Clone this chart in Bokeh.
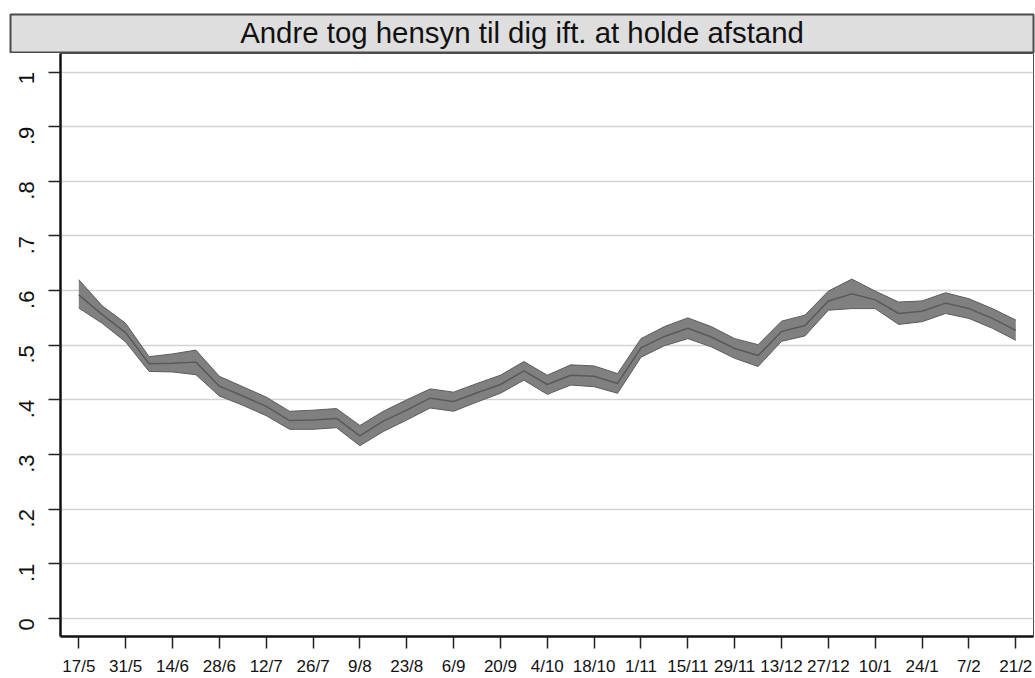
from bokeh.plotting import figure
from bokeh.models import Range1d, FixedTicker, Label, ColumnDataSource
from bokeh.embed import file_html
from bokeh.resources import INLINE
import math

title_text = "Andre tog hensyn til dig ift. at holde afstand"

# weekly observations, week 0 = 17/5
weeks = list(range(41))
mean = [0.592, 0.556, 0.523, 0.466, 0.467, 0.469, 0.425, 0.407, 0.388, 0.362,
        0.363, 0.366, 0.334, 0.361, 0.381, 0.403, 0.397, 0.413, 0.428, 0.453,
        0.428, 0.445, 0.443, 0.430, 0.495, 0.516, 0.531, 0.515, 0.494, 0.481,
        0.525, 0.536, 0.581, 0.594, 0.583, 0.558, 0.562, 0.577, 0.567, 0.549, 0.527]
upper = [0.620, 0.572, 0.540, 0.479, 0.484, 0.491, 0.443, 0.424, 0.405, 0.379,
         0.381, 0.384, 0.353, 0.379, 0.400, 0.420, 0.414, 0.430, 0.445, 0.470,
         0.445, 0.464, 0.462, 0.448, 0.512, 0.534, 0.550, 0.534, 0.512, 0.501,
         0.544, 0.555, 0.599, 0.621, 0.599, 0.579, 0.581, 0.596, 0.585, 0.567, 0.546]
lower = [0.568, 0.540, 0.506, 0.452, 0.451, 0.446, 0.407, 0.390, 0.371, 0.346,
         0.346, 0.349, 0.316, 0.342, 0.363, 0.385, 0.379, 0.396, 0.412, 0.436,
         0.410, 0.427, 0.424, 0.412, 0.478, 0.499, 0.512, 0.497, 0.476, 0.461,
         0.507, 0.517, 0.564, 0.567, 0.567, 0.538, 0.543, 0.558, 0.549, 0.531, 0.509]

x_tick_labels = ["17/5", "31/5", "14/6", "28/6", "12/7", "26/7", "9/8", "23/8", "6/9",
                 "20/9", "4/10", "18/10", "1/11", "15/11", "29/11", "13/12", "27/12",
                 "10/1", "24/1", "7/2", "21/2"]
x_tick_pos = [2 * i for i in range(len(x_tick_labels))]
y_ticks = [0, 0.1, 0.2, 0.3, 0.4, 0.5, 0.6, 0.7, 0.8, 0.9, 1.0]
y_tick_labels = ["0", ".1", ".2", ".3", ".4", ".5", ".6", ".7", ".8", ".9", "1"]

FONT = "Liberation Sans"

# ---- title strip (separate root, so frames are not aligned) ----
t = figure(width=1035, height=53, output_backend="svg", toolbar_location=None,
           x_axis_type=None, y_axis_type=None,
           x_range=Range1d(0, 1), y_range=Range1d(0, 1),
           min_border_left=10, min_border_right=2, min_border_top=14, min_border_bottom=0)
t.background_fill_color = "#dedede"
t.border_fill_color = "white"
t.outline_line_color = "#4a4a4a"
t.outline_line_width = 2
t.grid.visible = False
t.add_layout(Label(x=0.5, y=0.53, text=title_text, text_align="center",
                   text_baseline="middle", text_font=FONT, text_font_size="29.4px",
                   text_color="#111111"))

# ---- main plot ----
p = figure(width=1035, height=625, output_backend="svg", toolbar_location=None,
           x_range=Range1d(-0.781, 40.756), y_range=Range1d(-0.0333, 1.034),
           min_border_left=60, min_border_right=2, min_border_top=0, min_border_bottom=38)
p.background_fill_color = "white"
p.border_fill_color = "white"
p.outline_line_color = "#505050"
p.outline_line_width = 1

src = ColumnDataSource(dict(x=weeks, m=mean, lo=lower, hi=upper))
p.varea(x="x", y1="lo", y2="hi", source=src, fill_color="#808080", fill_alpha=1.0)
p.line(x="x", y="hi", source=src, line_color="#5c5c5c", line_width=1)
p.line(x="x", y="lo", source=src, line_color="#5c5c5c", line_width=1)
p.line(x="x", y="m", source=src, line_color="#595959", line_width=1.5)

# grid
p.xgrid.visible = False
p.ygrid.ticker = FixedTicker(ticks=y_ticks)
p.ygrid.grid_line_color = "#d2d2d2"
p.ygrid.grid_line_width = 1.6

# x axis
xa = p.xaxis[0]
xa.ticker = FixedTicker(ticks=x_tick_pos)
xa.major_label_overrides = {pos: lab for pos, lab in zip(x_tick_pos, x_tick_labels)}
xa.minor_tick_line_color = None
xa.major_tick_in = 0
xa.major_tick_out = 12
xa.major_tick_line_color = "#222222"
xa.major_tick_line_width = 1.5
xa.axis_line_color = "#111111"
xa.axis_line_width = 2.5
xa.major_label_text_font = FONT
xa.major_label_text_font_size = "17px"
xa.major_label_text_color = "#111111"
xa.major_label_standoff = 8

# y axis
ya = p.yaxis[0]
ya.ticker = FixedTicker(ticks=y_ticks)
ya.major_label_overrides = {v: lab for v, lab in zip(y_ticks, y_tick_labels)}
ya.minor_tick_line_color = None
ya.major_tick_in = 0
ya.major_tick_out = 12
ya.major_tick_line_color = "#222222"
ya.major_tick_line_width = 1.5
ya.axis_line_color = "#111111"
ya.axis_line_width = 2.5
ya.major_label_orientation = math.pi / 2
ya.major_label_text_font = FONT
ya.major_label_text_font_size = "22px"
ya.major_label_text_color = "#111111"
ya.major_label_standoff = 22

open("out.html", "w").write(file_html([t, p], INLINE))
